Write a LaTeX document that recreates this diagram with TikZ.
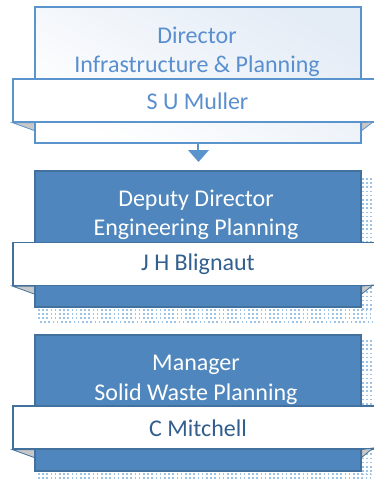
\documentclass[tikz,border=0pt]{standalone}
\usepackage{fontspec}
\setmainfont{Carlito}
\definecolor{lblue}{HTML}{5B93CD}
\definecolor{ltext}{HTML}{5A8FCF}
\definecolor{dfill}{HTML}{4F86BD}
\definecolor{dline}{HTML}{41719C}
\definecolor{dtext}{HTML}{325F8E}
\definecolor{gfill}{HTML}{E4ECF6}
\definecolor{dotc}{HTML}{9DC3E6}
\definecolor{foldc}{HTML}{C8C8C8}
\tikzset{
  x=1pt,y=-1pt,
  topbox/.style={draw=lblue,line width=1.2pt,top color=gfill,bottom color=white,shading angle=-30,minimum width=326pt,minimum height=136pt,inner sep=0pt},
  darkbox/.style={draw=dline,line width=1.2pt,fill=dfill,minimum width=326pt,minimum height=136pt,inner sep=0pt},
  band/.style={draw=#1,line width=1.2pt,fill=white,minimum width=372pt,minimum height=43pt,inner sep=0pt},
  ttl/.style={align=center,font=\fontsize{24}{29.5}\selectfont},
  nm/.style={font=\fontsize{24}{28}\selectfont},
  fold/.style={fill=foldc,draw=#1,line width=0.8pt},
  shdots/.style={draw=dotc,line width=1.6pt,dash pattern=on 1.6pt off 2.6pt},
  conn/.style={draw=lblue,line width=1.2pt},
}
\begin{document}
\begin{tikzpicture}
\useasboundingbox (0,0) rectangle (373,480);
% box 1
\node[topbox] (b1) at (198,75) {};
\node[ttl,text=ltext] (t1) at (197,52) {Director\\Infrastructure \& Planning};
\node[band=lblue] (n1) at (199,100.5) {};
\node[nm,text=ltext] (m1) at (197.5,101) {S U Muller};
\fill[fold=lblue] (n1.south west) -- (b1.west |- n1.south) -- ([yshift=-8pt]b1.west |- n1.south) -- cycle;
\fill[fold=lblue] (b1.east |- n1.south) -- (373,122) -- ([yshift=-8pt]b1.east |- n1.south) -- cycle;
% shadow dots box 2
\foreach \yy in {310,314,318}{\draw[shdots] (38,\yy) -- (372,\yy);}
\draw[shdots] (40,322) -- (372,322);
\foreach \xx in {363,367,371}{\draw[shdots] (\xx,178) -- (\xx,310);}
% shadow dots box 3
\foreach \xx in {363,367,371}{\draw[shdots] (\xx,340) -- (\xx,475);}
\foreach \yy in {474,478}{\draw[shdots] (38,\yy) -- (372,\yy);}
% box 2
\node[darkbox] (b2) at (198,239) {};
\node[ttl,text=white] (t2) at (196,215) {Deputy Director\\Engineering Planning};
\node[band=dline] (n2) at (199,264) {};
\node[nm,text=dtext] (m2) at (198,264.5) {J H Blignaut};
\fill[fold=dline] (n2.south west) -- (b2.west |- n2.south) -- ([yshift=-8pt]b2.west |- n2.south) -- cycle;
\fill[fold=dline] (b2.east |- n2.south) -- (373,285) -- ([yshift=-8pt]b2.east |- n2.south) -- cycle;
% box 3
\node[darkbox] (b3) at (198,403) {};
\node[ttl,text=white] (t3) at (196,380) {Manager\\Solid Waste Planning};
\node[band=dline] (n3) at (199,427.5) {};
\node[nm,text=dtext] (m3) at (198,428) {C Mitchell};
\fill[fold=dline] (n3.south west) -- (b3.west |- n3.south) -- ([yshift=-8pt]b3.west |- n3.south) -- cycle;
\fill[fold=dline] (b3.east |- n3.south) -- (373,448) -- ([yshift=-8pt]b3.east |- n3.south) -- cycle;
% connector
\coordinate (ah) at (198,150);
\draw[conn] (b1.south) -- (ah);
\fill[lblue] (188,150) -- (209,150) -- (198.5,162) -- cycle;
\end{tikzpicture}
\end{document}
